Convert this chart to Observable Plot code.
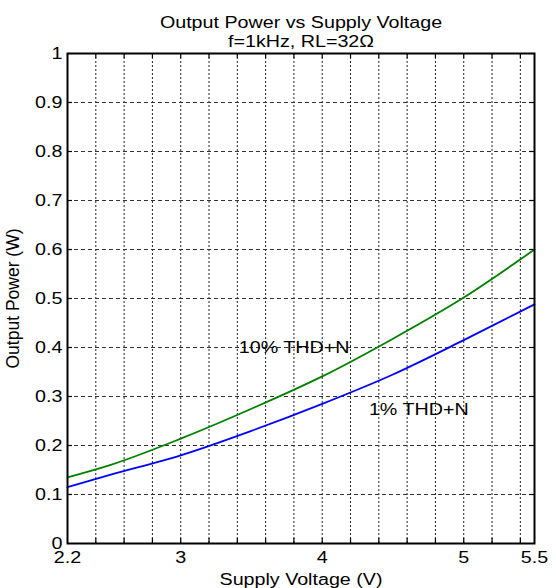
<!DOCTYPE html>
<html><head><meta charset="utf-8">
<script src="https://cdn.jsdelivr.net/npm/d3@7"></script>
<script src="https://cdn.jsdelivr.net/npm/@observablehq/plot@0.6"></script>
<style>
html,body{margin:0;padding:0;background:#fff;}
#chart svg{display:block;}
</style></head><body>
<div id="chart"></div>
<script>
// ---- data ----
const titleText = "Output Power vs Supply Voltage";
const subtitleText = "f=1kHz, RL=32Ω";
const xLabelText = "Supply Voltage (V)";
const yLabelText = "Output Power (W)";
const seriesNames = ["10% THD+N", "1% THD+N"];
const voltage = [2.2, 2.5, 3.0, 3.5, 4.0, 4.5, 5.0, 5.5];
const power10 = [0.135, 0.160, 0.214, 0.275, 0.341, 0.418, 0.502, 0.600];
const power1  = [0.115, 0.140, 0.180, 0.230, 0.285, 0.345, 0.415, 0.488];
const xTickValues = [2.2, 3, 4, 5, 5.5];
const xGridValues = [2.4, 2.6, 2.8, 3.0, 3.2, 3.4, 3.6, 3.8, 4.0, 4.2, 4.4, 4.6, 4.8, 5.0, 5.2, 5.4];
const yTickValues = [0, 0.1, 0.2, 0.3, 0.4, 0.5, 0.6, 0.7, 0.8, 0.9, 1];
const yGridValues = [0.1, 0.2, 0.3, 0.4, 0.5, 0.6, 0.7, 0.8, 0.9];
const labelVoltage = [3.41, 4.33];
const labelPower = [0.40, 0.272];

// ---- build ----
const rows10 = voltage.map((v, i) => ({v, p: power10[i]}));
const rows1 = voltage.map((v, i) => ({v, p: power1[i]}));
const labels = seriesNames.map((name, i) => ({name, v: labelVoltage[i], p: labelPower[i]}));

const W = 556, H = 588, mL = 67, mR = 22, mT = 53, mB = 45;
const innerW = W - mL - mR, innerH = H - mT - mB, tick = 5;
const font = 16;

const chart = Plot.plot({
  width: W, height: H,
  marginLeft: mL, marginRight: mR, marginTop: mT, marginBottom: mB,
  style: {fontFamily: "'Liberation Sans', Arial, sans-serif", fontSize: font + "px", color: "black", background: "white"},
  x: {domain: [2.2, 5.5]},
  y: {domain: [0, 1]},
  marks: [
    Plot.ruleX(xGridValues, {x: d => d, stroke: "#222", strokeWidth: 1, strokeDasharray: "2,2"}),
    Plot.ruleY(yGridValues, {y: d => d, stroke: "#333", strokeWidth: 1, strokeDasharray: "4,3"}),
    Plot.ruleX(xGridValues, {x: d => d, insetTop: innerH - tick, stroke: "black", strokeWidth: 1.2}),
    Plot.ruleX(xGridValues, {x: d => d, insetBottom: innerH - tick, stroke: "black", strokeWidth: 1.2}),
    Plot.ruleY(yGridValues, {y: d => d, insetRight: innerW - tick, stroke: "black", strokeWidth: 1.2}),
    Plot.ruleY(yGridValues, {y: d => d, insetLeft: innerW - tick, stroke: "black", strokeWidth: 1.2}),
    Plot.line(rows10, {x: "v", y: "p", stroke: "#008000", strokeWidth: 1.8, curve: "monotone-x"}),
    Plot.line(rows1, {x: "v", y: "p", stroke: "#0000ff", strokeWidth: 1.8, curve: "monotone-x"}),
    Plot.text(labels, {x: "v", y: "p", text: "name", textAnchor: "start", lineAnchor: "middle", fontSize: font, fill: "black"}),
    Plot.axisX(xTickValues, {tickSize: 0, tickPadding: 8, tickFormat: d => String(d), fontSize: font, fill: "black", label: null}),
    Plot.axisY(yTickValues, {tickSize: 0, tickPadding: 5, tickFormat: d => String(d), fontSize: font, fill: "black", label: null}),
    Plot.text([titleText], {frameAnchor: "top", lineAnchor: "bottom", dy: -26, fontSize: font, fill: "black"}),
    Plot.text([subtitleText], {frameAnchor: "top", lineAnchor: "bottom", dy: -7, fontSize: font, fill: "black"}),
    Plot.text([xLabelText], {frameAnchor: "bottom", lineAnchor: "bottom", dy: 41, fontSize: font, fill: "black"}),
    Plot.text([yLabelText], {frameAnchor: "left", textAnchor: "middle", rotate: -90, lineAnchor: "bottom", dx: -48.5, fontSize: 17.5, fill: "black"}),
    Plot.frame({stroke: "black", strokeWidth: 2})
  ]
});
document.getElementById("chart").append(chart);

// widen horizontal glyphs slightly to match the stretched look of the original
chart.querySelectorAll("text").forEach(t => {
  const tr = (t.getAttribute("transform") || "") + ((t.parentNode && t.parentNode.getAttribute && t.parentNode.getAttribute("transform")) || "");
  if (tr.includes("rotate")) return;
  const L = t.getComputedTextLength();
  if (L > 0) {
    t.setAttribute("textLength", (L * 1.23).toFixed(1));
    t.setAttribute("lengthAdjust", "spacingAndGlyphs");
  }
});
</script>
</body></html>
